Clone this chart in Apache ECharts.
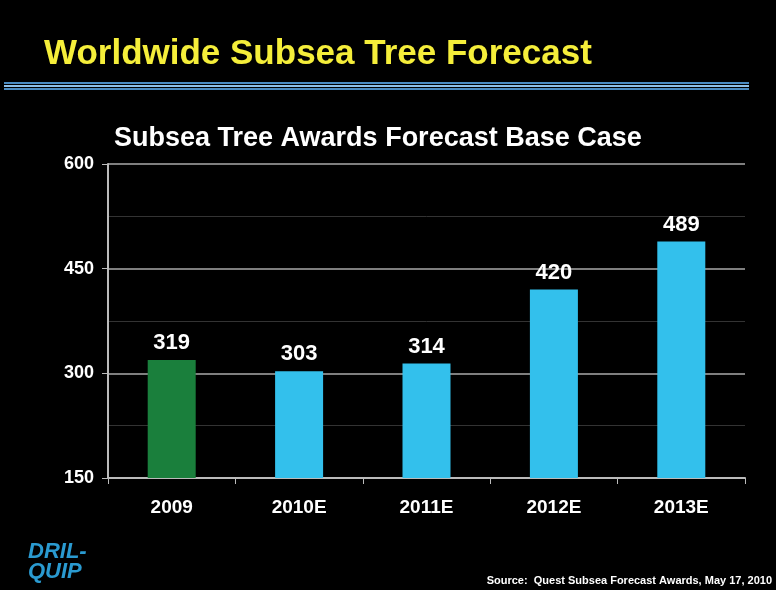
<!DOCTYPE html><html><head><meta charset="utf-8"><script src="https://cdn.jsdelivr.net/npm/echarts@6/dist/echarts.min.js"></script>
<style>body{margin:0;background:#fff}#c{width:776px;height:600px}</style></head><body><div id="c"></div><script>
const categories=['2009','2010E','2011E','2012E','2013E'];
const values=[319,303,314,420,489];
const colors=['#1a7f3c','#33c0ec','#33c0ec','#33c0ec','#33c0ec'];
const yTicks=[150,300,450,600];
const F='"Liberation Sans", Arial, sans-serif';
const FN='"Liberation Sans Narrow", "Liberation Sans", sans-serif';
const ch=echarts.init(document.getElementById('c'));
ch.setOption({
 backgroundColor:'#fff',
 graphic:[
  {type:'rect',shape:{x:0,y:0,width:776,height:590},style:{fill:'#000'},z:-10},
  {type:'text',left:44,top:37,style:{text:'Worldwide Subsea Tree Forecast',fill:'#f5ee3a',font:'bold 35px '+F}},
  {type:'rect',shape:{x:4,y:82,width:745,height:2},style:{fill:'#4a8ac0'}},
  {type:'rect',shape:{x:4,y:85,width:745,height:2},style:{fill:'#8fc0e8'}},
  {type:'rect',shape:{x:4,y:88,width:745,height:2},style:{fill:'#4a8ac0'}},
  {type:'text',left:28,top:541,style:{text:'DRIL-\nQUIP',fill:'#2a9ad0',font:'italic bold 22px '+FN,lineHeight:20}},
  {type:'text',right:4,top:575,style:{text:'Source:  Quest Subsea Forecast Awards, May 17, 2010',fill:'#fff',font:'bold 11px '+F}}
 ],
 title:{text:'Subsea Tree Awards Forecast Base Case',left:109,top:120,textStyle:{color:'#fff',fontSize:27,fontWeight:'bold',fontFamily:F}},
 grid:{left:108,right:31,top:164,bottom:122,containLabel:false},
 xAxis:{type:'category',data:categories,axisLine:{lineStyle:{color:'#bbb',width:2}},axisTick:{show:true,length:6,lineStyle:{color:'#bbb'}},
  axisLabel:{color:'#fff',fontSize:19,fontWeight:'bold',margin:20,fontFamily:FN}},
 yAxis:{type:'value',min:150,max:600,interval:150,axisLine:{show:true,lineStyle:{color:'#bbb',width:2}},axisTick:{show:true,length:6,lineStyle:{color:'#bbb'}},
  axisLabel:{color:'#fff',fontSize:18,fontWeight:'bold',margin:14,fontFamily:F}},
 series:[{type:'bar',barWidth:48,data:values.map((v,i)=>({value:v,itemStyle:{color:colors[i]}})),
  label:{show:true,position:'top',color:'#fff',fontSize:22,fontWeight:'bold',distance:6,fontFamily:F}}]
});
ch.setOption({yAxis:{splitLine:{lineStyle:{color:'#aaa',width:1.5}},minorTick:{show:false,splitNumber:2},minorSplitLine:{show:true,lineStyle:{color:'#333'}}}});
</script></body></html>
